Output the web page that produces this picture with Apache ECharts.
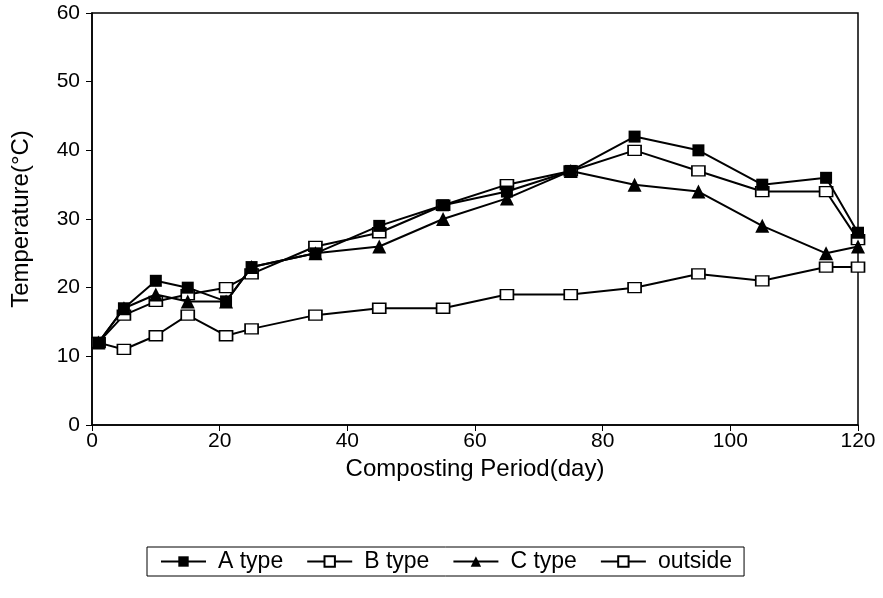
<!DOCTYPE html>
<html>
<head>
<meta charset="utf-8">
<script src="https://cdn.jsdelivr.net/npm/echarts@6/dist/echarts.min.js"></script>
<style>
  html, body { margin: 0; padding: 0; background: #fff; }
  #chart { width: 883px; height: 598px; }
</style>
</head>
<body>
<div id="chart"></div>
<script>
// sampling days
const days = [1, 5, 10, 15, 21, 25, 35, 45, 55, 65, 75, 85, 95, 105, 115, 120]
// temperatures (°C)
const aType = [12, 17, 21, 20, 18, 23, 25, 29, 32, 34, 37, 42, 40, 35, 36, 28]
const bType = [12, 16, 18, 19, 20, 22, 26, 28, 32, 35, 37, 40, 37, 34, 34, 27]
const cType = [12, 17, 19, 18, 18, 23, 25, 26, 30, 33, 37, 35, 34, 29, 25, 26]
const outside = [12, 11, 13, 16, 13, 14, 16, 17, 17, 19, 19, 20, 22, 21, 23, 23]
const seriesNames = ["A type", "B type", "C type", "outside"]

const font = "Liberation Sans, Arial, sans-serif"
const pairs = (vals) => days.map((d, i) => [d, vals[i]])

const openSquare = {
  symbol: "rect",
  symbolSize: [13, 10],
  itemStyle: { color: "#fff", borderColor: "#000", borderWidth: 1.5 }
}

const makeSeries = (name, vals, mark) => ({
  name: name,
  type: "line",
  data: pairs(vals),
  showSymbol: true,
  symbol: mark.symbol,
  symbolSize: mark.symbolSize,
  itemStyle: mark.itemStyle,
  lineStyle: { color: "#000", width: 2 },
  z: mark.z || 2
})

const option = {
  animation: false,
  backgroundColor: "#fff",
  textStyle: { fontFamily: font, color: "#000" },
  grid: {
    left: 92,
    right: 25,
    top: 13,
    bottom: 173,
    show: true,
    borderColor: "#000",
    borderWidth: 1.5
  },
  legend: {
    data: seriesNames,
    left: 147,
    top: 547,
    itemWidth: 45,
    itemHeight: 13,
    itemGap: 23,
    padding: [3, 12, 3, 13],
    borderColor: "#000",
    borderWidth: 1,
    textStyle: {
      fontFamily: font,
      fontSize: 23,
      color: "#000",
      padding: [0, 0, 0, 7]
    }
  },
  xAxis: {
    type: "value",
    min: 0,
    max: 120,
    interval: 20,
    name: "Composting Period(day)",
    nameLocation: "middle",
    nameGap: 29,
    nameTextStyle: { fontFamily: font, fontSize: 24, color: "#000" },
    axisLine: { lineStyle: { color: "#000", width: 1.5 } },
    axisTick: { length: 6, lineStyle: { color: "#000" } },
    axisLabel: { fontFamily: font, fontSize: 21, color: "#000", margin: 6 },
    splitLine: { show: false }
  },
  yAxis: {
    type: "value",
    min: 0,
    max: 60,
    interval: 10,
    name: "Temperature(°C)",
    nameLocation: "middle",
    nameGap: 59,
    nameTextStyle: { fontFamily: font, fontSize: 24, color: "#000" },
    axisLine: { lineStyle: { color: "#000", width: 1.5 } },
    axisTick: { length: 6, lineStyle: { color: "#000" } },
    axisLabel: { fontFamily: font, fontSize: 21, color: "#000", margin: 12 },
    splitLine: { show: false }
  },
  series: [
    makeSeries("A type", aType, {
      symbol: "rect",
      symbolSize: 12,
      itemStyle: { color: "#000" },
      z: 4
    }),
    makeSeries("B type", bType, openSquare),
    makeSeries("C type", cType, {
      symbol: "triangle",
      symbolSize: 14,
      itemStyle: { color: "#000" },
      z: 3
    }),
    makeSeries("outside", outside, openSquare)
  ]
}

const myChart = echarts.init(document.getElementById("chart"))
myChart.setOption(option)
</script>
</body>
</html>
